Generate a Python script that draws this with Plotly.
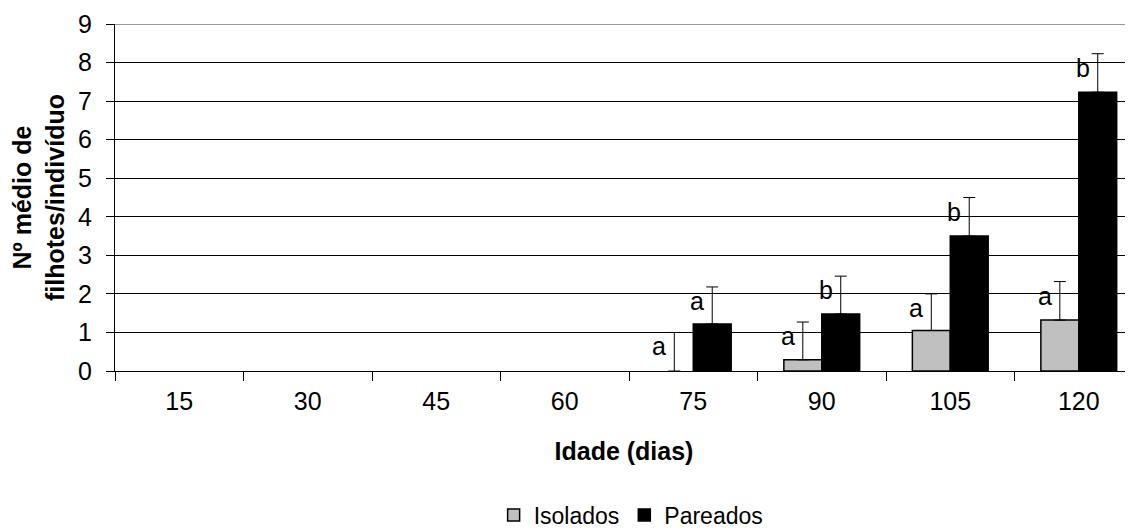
import numpy as np
import plotly.graph_objects as go

categories = ["15", "30", "45", "60", "75", "90", "105", "120"]
isolados = [0, 0, 0, 0, 0, 0.29, 1.05, 1.32]
isolados_err = [0, 0, 0, 0, 1.0, 0.98, 0.95, 1.0]
pareados = [0, 0, 0, 0, 1.22, 1.48, 3.5, 7.23]
pareados_err = [0, 0, 0, 0, 0.96, 0.98, 1.0, 1.0]
isolados_letters = ["", "", "", "", "a", "a", "a", "a"]
pareados_letters = ["", "", "", "", "a", "b", "b", "b"]

FONT = "Liberation Sans, Arial, sans-serif"
series = [
    ("Isolados", isolados, isolados_err, isolados_letters, "#C0C0C0", -34),
    ("Pareados", pareados, pareados_err, pareados_letters, "black", 4),
]

fig = go.Figure()
annotations = []
for name, vals, errs, letters, color, shift in series:
    err_plus = np.array([e if e > 0 else np.nan for e in errs], dtype=float)
    err_minus = np.array([0.0 if e > 0 else np.nan for e in errs], dtype=float)
    fig.add_trace(go.Bar(
        name=name, x=categories, y=vals, offsetgroup=name, showlegend=False,
        marker=dict(color=color,
                    line=dict(color="black", width=[1.5 if v > 0 else 0 for v in vals])),
        error_y=dict(type="data", array=err_plus, symmetric=False,
                     arrayminus=err_minus, color="black", thickness=1, width=6),
    ))
    # legend entry (no data of its own)
    fig.add_trace(go.Bar(
        name=name, x=[None], y=[None], offsetgroup=name, showlegend=True,
        marker=dict(color=color, line=dict(color="black", width=1.5)),
    ))
    for i, c in enumerate(categories):
        if letters[i]:
            annotations.append(dict(
                x=i, xref="x", yref="y", y=vals[i] + errs[i], text=letters[i], showarrow=False,
                xshift=shift, yshift=-14, xanchor="center", yanchor="middle",
                font=dict(family=FONT, size=25, color="black"),
            ))

fig.update_layout(
    width=1125, height=521,
    margin=dict(l=107, r=0, t=16, b=158, autoexpand=False),
    paper_bgcolor="white", plot_bgcolor="white",
    barmode="group", bargap=0.41, bargroupgap=0,
    font=dict(family=FONT, size=25, color="black"),
    showlegend=True,
    legend=dict(orientation="h", x=0.507, xanchor="center", y=-0.415, yanchor="middle",
                font=dict(family=FONT, size=23, color="black"),
                itemwidth=30, tracegroupgap=0, bgcolor="rgba(0,0,0,0)"),
    annotations=annotations,
    shapes=[dict(type="line", xref="paper", yref="y", x0=0, x1=1, y0=9, y1=9,
                 line=dict(color="#999999", width=2))],
)
fig.update_xaxes(
    type="category", range=[-0.5, 7.422], automargin=False,
    showline=True, linecolor="black", linewidth=1,
    ticks="outside", tickson="boundaries", ticklen=9, tickcolor="black",
    showgrid=False, ticklabelstandoff=8,
    tickfont=dict(family=FONT, size=25, color="black"),
    title=dict(text="<b>Idade (dias)</b>", font=dict(family=FONT, size=25, color="black"), standoff=28),
)
fig.update_yaxes(
    range=[0, 9], dtick=1, tick0=0, automargin=False,
    showline=True, linecolor="black", linewidth=1,
    ticks="outside", ticklen=8, tickcolor="black",
    showgrid=True, gridcolor="black", gridwidth=1,
    zeroline=False, ticklabelstandoff=9,
    tickfont=dict(family=FONT, size=25, color="black"),
    title=dict(text="<b>Nº médio de<br>filhotes/indivíduo</b>", font=dict(family=FONT, size=25, color="black"), standoff=8),
)

fig.write_html("out.html")
